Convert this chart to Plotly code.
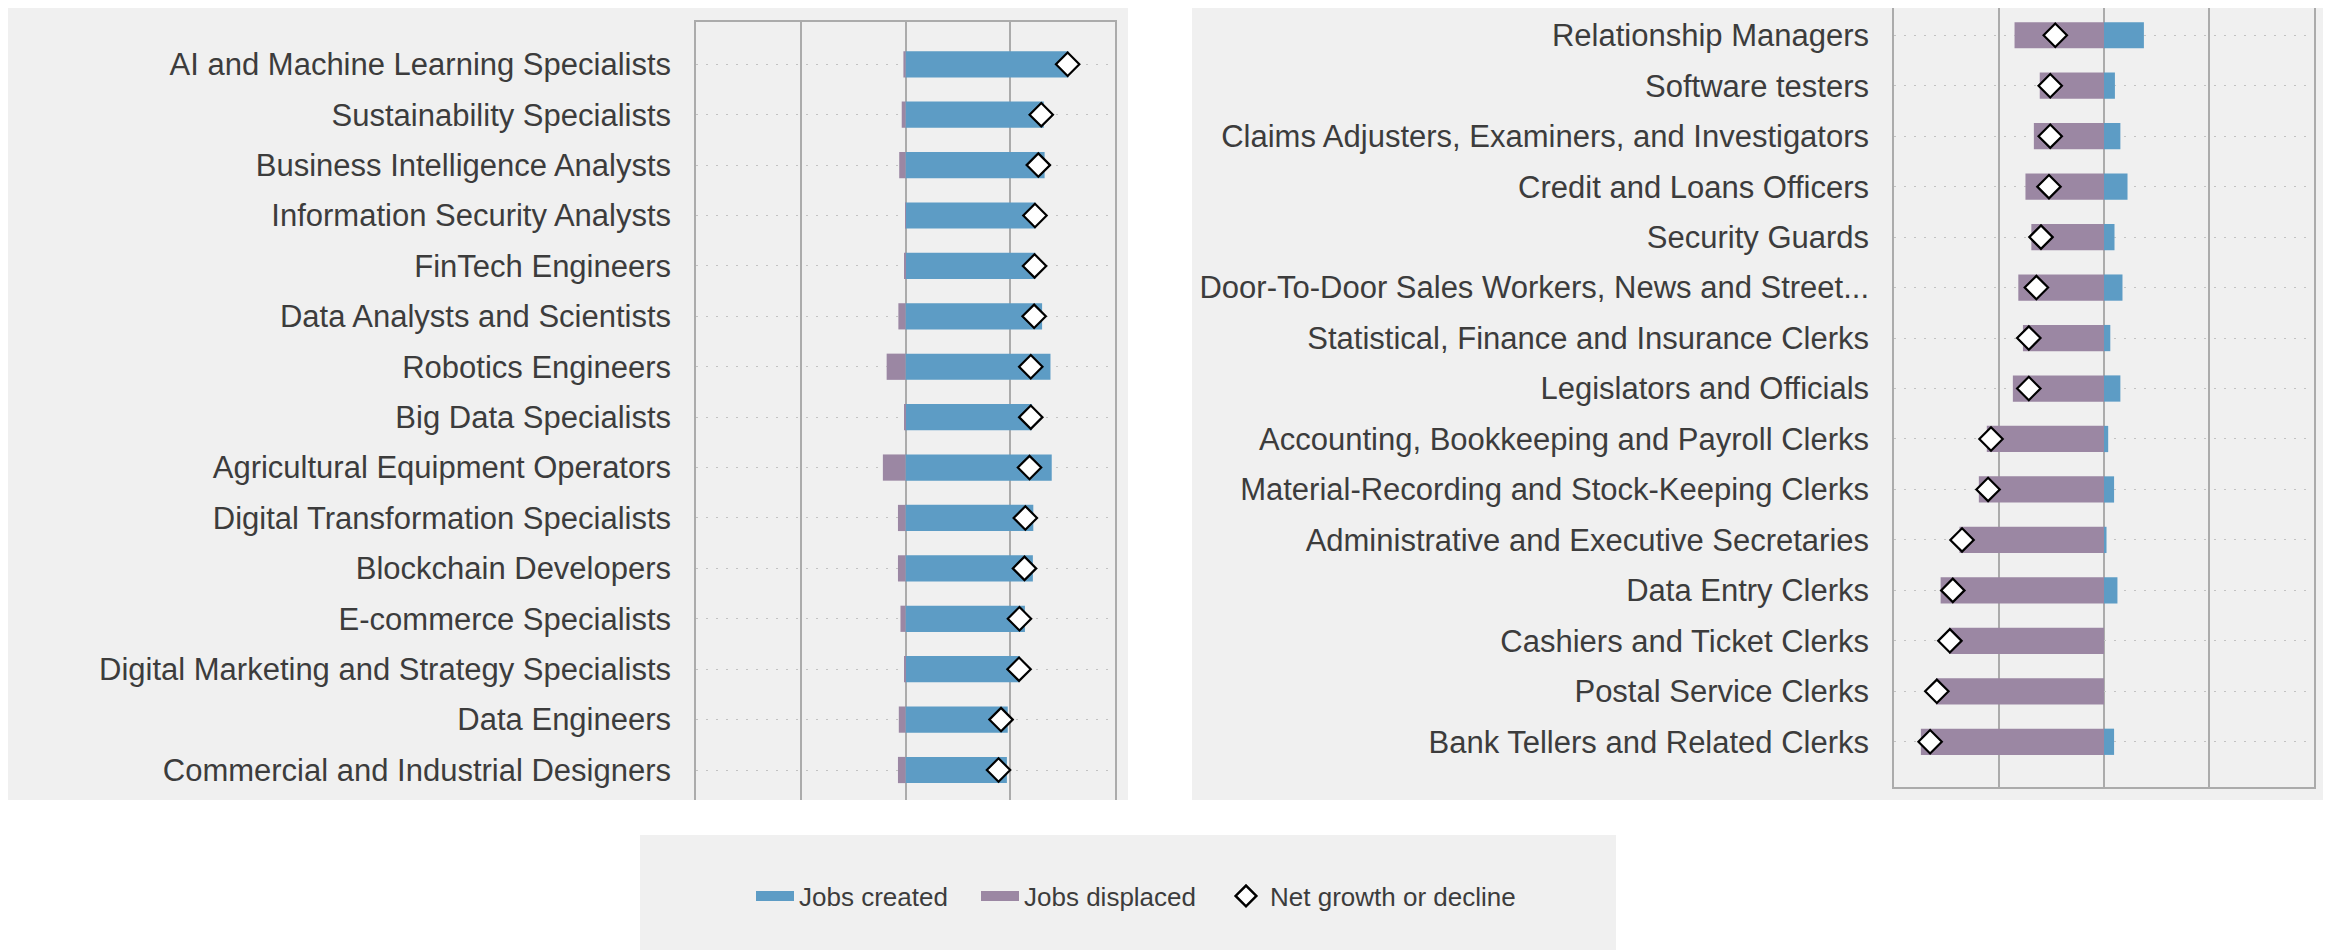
import plotly.graph_objects as go

# ---------------- data ----------------
left_jobs = [
    "AI and Machine Learning Specialists", "Sustainability Specialists",
    "Business Intelligence Analysts", "Information Security Analysts",
    "FinTech Engineers", "Data Analysts and Scientists", "Robotics Engineers",
    "Big Data Specialists", "Agricultural Equipment Operators",
    "Digital Transformation Specialists", "Blockchain Developers",
    "E-commerce Specialists", "Digital Marketing and Strategy Specialists",
    "Data Engineers", "Commercial and Industrial Designers",
]
left_created = [38.9, 33.0, 33.2, 31.0, 31.0, 32.6, 34.6, 30.2, 34.9, 30.5, 30.4, 28.5, 27.2, 24.4, 24.2]
left_displaced = [-0.5, -0.9, -1.5, -0.1, -0.3, -1.7, -4.5, -0.3, -5.4, -1.8, -1.8, -1.2, -0.2, -1.6, -1.8]
left_net = [38.7, 32.4, 31.7, 30.9, 30.8, 30.7, 29.9, 29.9, 29.6, 28.6, 28.4, 27.2, 27.1, 22.8, 22.2]

right_jobs = [
    "Relationship Managers", "Software testers",
    "Claims Adjusters, Examiners, and Investigators", "Credit and Loans Officers",
    "Security Guards", "Door-To-Door Sales Workers, News and Street...",
    "Statistical, Finance and Insurance Clerks", "Legislators and Officials",
    "Accounting, Bookkeeping and Payroll Clerks",
    "Material-Recording and Stock-Keeping Clerks",
    "Administrative and Executive Secretaries", "Data Entry Clerks",
    "Cashiers and Ticket Clerks", "Postal Service Clerks",
    "Bank Tellers and Related Clerks",
]
right_created = [9.5, 2.6, 3.9, 5.6, 2.5, 4.4, 1.5, 3.9, 1.0, 2.4, 0.6, 3.2, 0.0, 0.0, 2.4]
right_displaced = [-21.3, -15.3, -16.7, -18.7, -17.3, -20.4, -19.3, -21.7, -27.9, -29.8, -34.4, -38.9, -36.9, -40.0, -43.6]
right_net = [-11.6, -12.8, -12.8, -13.1, -15.0, -16.1, -17.9, -17.9, -26.9, -27.6, -33.8, -36.0, -36.7, -39.8, -41.4]

x_range = [-50, 50]
grid_vals = [-25, 0, 25]
series_names = ["Jobs created", "Jobs displaced", "Net growth or decline"]

# ---------------- style ----------------
W, H = 2331, 950
OFF = 8  # page body margin
BLUE = "#5d9cc5"
PURPLE = "#9b87a3"
PANEL = "#f0f0f0"
GRID = "#ababab"
DOT = "#c2c2c2"
TXT = "#3c3c3c"
FONT = "Liberation Sans, Arial, sans-serif"


def px(x):
    return min(max((x - OFF) / W, 0.0), 1.0)


def py(y):
    return min(max(1 - (y - OFF) / H, 0.0), 1.0)


def spx(x):
    return (x - OFF) / W


def spy(y):
    return 1 - (y - OFF) / H


fig = go.Figure()

panels = [
    ("x", "y", left_jobs, left_created, left_displaced, left_net),
    ("x2", "y2", right_jobs, right_created, right_displaced, right_net),
]
for i, (xa, ya, jobs, created, displaced, net) in enumerate(panels):
    fig.add_trace(go.Bar(
        y=jobs, x=created, orientation="h", xaxis=xa, yaxis=ya,
        marker=dict(color=BLUE, line=dict(width=0)), width=0.52,
        name=series_names[0], showlegend=False,
    ))
    fig.add_trace(go.Bar(
        y=jobs, x=displaced, orientation="h", xaxis=xa, yaxis=ya,
        marker=dict(color=PURPLE, line=dict(width=0)), width=0.52,
        name=series_names[1], showlegend=False,
    ))
    fig.add_trace(go.Scatter(
        y=jobs, x=net, mode="markers", xaxis=xa, yaxis=ya,
        marker=dict(symbol="diamond", size=18, color="white",
                    line=dict(color="black", width=2.2)),
        name=series_names[2], showlegend=False,
    ))

# legend entries (one legend each, for exact placement)
fig.add_trace(go.Scatter(x=[None], y=[None], mode="lines", name=series_names[0],
                         line=dict(color=BLUE, width=14), legend="legend"))
fig.add_trace(go.Scatter(x=[None], y=[None], mode="lines", name=series_names[1],
                         line=dict(color=PURPLE, width=14), legend="legend2"))
fig.add_trace(go.Scatter(x=[None], y=[None], mode="markers", name=series_names[2],
                         marker=dict(symbol="diamond", size=16, color="white",
                                     line=dict(color="black", width=2.5)),
                         legend="legend3"))

common_x = dict(range=x_range, tickvals=grid_vals, showgrid=True, gridcolor=GRID,
                gridwidth=1.5, zeroline=False, showticklabels=False, ticks="",
                showline=True, linecolor=GRID, linewidth=1.5, fixedrange=True)
common_y = dict(type="category", showgrid=True, gridcolor=DOT, griddash="2px,8px",
                gridwidth=1, zeroline=False, ticks="", showline=True, mirror=True,
                linecolor=GRID, linewidth=1.5, ticklabelstandoff=17,
                tickfont=dict(family=FONT, size=31, color=TXT), automargin=False)

leg_common = dict(orientation="h", xanchor="left", yanchor="middle", y=py(896),
                  bgcolor="rgba(0,0,0,0)", itemwidth=38,
                  font=dict(family=FONT, size=26, color=TXT),
                  itemclick=False, itemdoubleclick=False)

fig.update_layout(
    width=W, height=H,
    margin=dict(l=0, r=0, t=0, b=0),
    paper_bgcolor="white", plot_bgcolor="rgba(0,0,0,0)",
    barmode="relative", bargap=0.48,
    font=dict(family=FONT, color=TXT),
    xaxis=dict(common_x, domain=[px(696), px(1115)], anchor="y", side="top"),
    yaxis=dict(common_y, domain=[py(800), py(21.7)], anchor="x",
               categoryarray=left_jobs, range=[14.595, -0.845]),
    xaxis2=dict(common_x, domain=[px(1894), px(2314)], anchor="y2", side="bottom"),
    yaxis2=dict(common_y, domain=[py(786.7), py(8)], anchor="x2",
                categoryarray=right_jobs, range=[14.89, -0.54]),
    legend=dict(leg_common, x=px(751)),
    legend2=dict(leg_common, x=px(976)),
    legend3=dict(leg_common, x=px(1222)),
    shapes=[
        dict(type="rect", xref="paper", yref="paper", layer="below",
             x0=spx(7), x1=spx(1128), y0=spy(800), y1=spy(5), fillcolor=PANEL, line=dict(width=0)),
        dict(type="rect", xref="paper", yref="paper", layer="below",
             x0=spx(1192), x1=spx(2323), y0=spy(800), y1=spy(5), fillcolor=PANEL, line=dict(width=0)),
        dict(type="rect", xref="paper", yref="paper", layer="below",
             x0=spx(640), x1=spx(1616), y0=spy(960), y1=spy(835), fillcolor=PANEL, line=dict(width=0)),
    ],
)

fig.write_html("out.html")
